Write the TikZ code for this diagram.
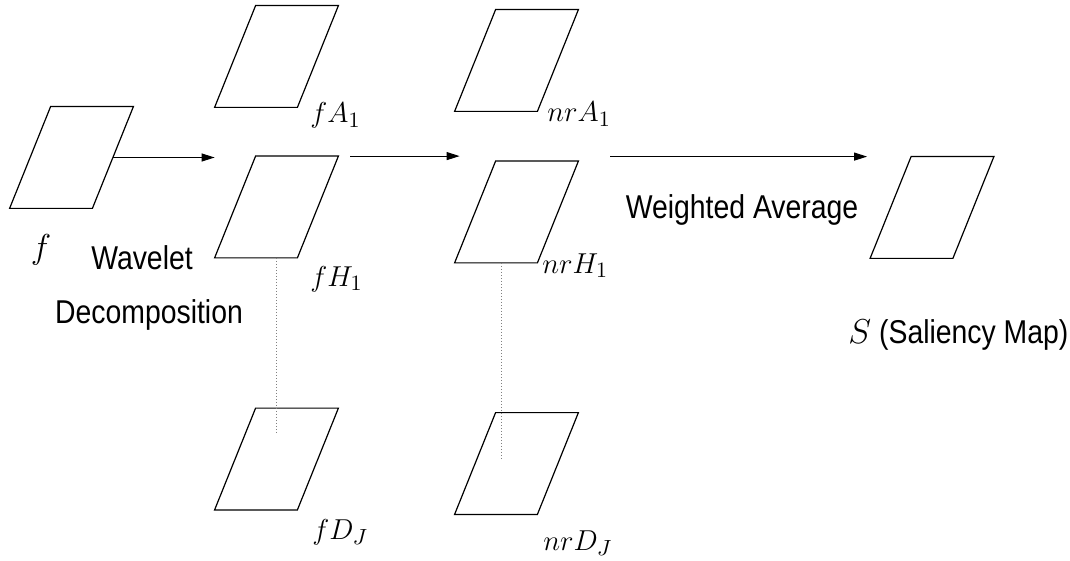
\documentclass[tikz,border=0pt]{standalone}
\usepackage{amsmath}
\usepackage{fontspec}
\newfontfamily\condsf[FakeStretch=0.86]{Liberation Sans}
\usetikzlibrary{arrows.meta}

\begin{document}
\begin{tikzpicture}[x=0.5pt,y=-0.5pt,
  band/.style={rectangle,minimum width=61.5pt,minimum height=50.5pt,inner sep=0pt},
  arr/.style={line width=0.5pt,-{Triangle[length=6.5pt,width=4pt]}},
  dots/.style={gray,line width=0.5pt,dash pattern=on 0.5pt off 1pt},
  lbl/.style={inner sep=0pt,anchor=base west,font=\fontsize{15}{18}\selectfont},
  txt/.style={inner sep=0pt,anchor=base,font=\fontsize{16.5}{20}\condsf}]
  \useasboundingbox (0,0) rectangle (1070,561);
  % images
  \node[band] (f) at (71.5,157.5) {};
  \node[band] (fA) at (276.5,56.5) {};
  \node[band] (fH) at (276.5,207) {};
  \node[band] (fD) at (276.5,459) {};
  \node[band] (nrA) at (516.5,60.5) {};
  \node[band] (nrH) at (516.5,212) {};
  \node[band] (nrD) at (516.5,463.5) {};
  \node[band] (S) at (932,207.5) {};
  \foreach \n in {f,fA,fH,fD,nrA,nrH,nrD,S}
    \draw[line width=0.6pt] (\n.south west) -- ([xshift=20.5pt]\n.north west) -- (\n.north east)
      -- ([xshift=-20.5pt]\n.south east) -- cycle;
  % flow
  \draw[arr] ([xshift=-10pt]f.east) -- (f.east -| fH.south west);
  \draw[arr] ([xshift=6pt]fH.north east) -- ([xshift=2.5pt]fH.north east -| nrH.south west);
  \draw[arr] ([xshift=16pt]nrH.north east |- S.north) -- ([xshift=-1.5pt]S.north -| S.south west);
  \draw[dots] (fH.south) -- ([yshift=13.5pt]fD.center);
  \draw[dots] ([xshift=-7.75pt]nrH.south) -- ([xshift=-7.75pt,yshift=2.75pt]nrD.center);
  % labels
  \node[lbl,anchor=center,font=\fontsize{19}{22}\selectfont] (lf) at (41,250) {$f$};
  \node[lbl] (lfA) at (310,123) {$fA_1$};
  \node[lbl] (lfH) at (310,286) {$fH_1$};
  \node[lbl] (lfD) at (312,539) {$fD_J$};
  \node[lbl] (lnrA) at (547,122) {$nrA_1$};
  \node[lbl] (lnrH) at (542,273) {$nrH_1$};
  \node[lbl] (lnrD) at (543,550) {$nrD_J$};
  \node[txt] (wav) at (142,270) {Wavelet};
  \node[txt] (dec) at (149,323) {Decomposition};
  \node[txt] (avg) at (742,219) {Weighted Average};
  \node[txt,anchor=base west] (sal) at (848,343) {$S$ (Saliency Map)};
\end{tikzpicture}
\end{document}
